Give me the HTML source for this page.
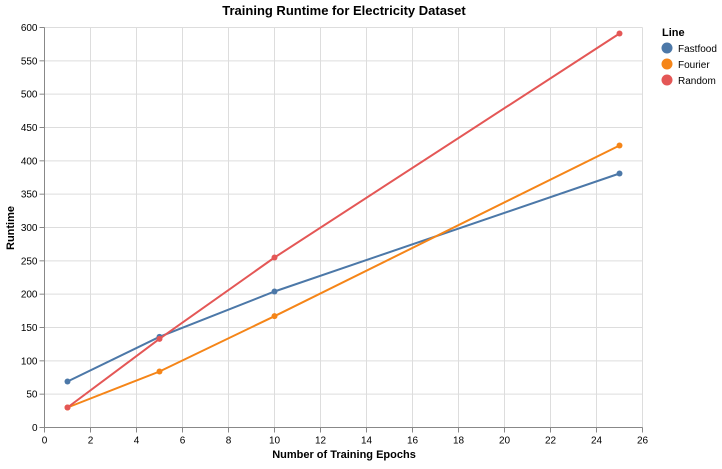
<!DOCTYPE html>
<html><head><meta charset="utf-8"><style>
body{margin:0;background:#fff;font-family:"Liberation Sans",Arial,sans-serif;}
svg text{font-family:"Liberation Sans",Arial,sans-serif;}
</style></head><body>
<svg id="chart" width="722" height="464">
<g id="grid"></g>
<g id="axes"></g>
<g id="series"></g>
<text x="344" y="15" text-anchor="middle" font-size="13" font-weight="bold">Training Runtime for Electricity Dataset</text>
<text x="344" y="458" text-anchor="middle" font-size="11" font-weight="bold">Number of Training Epochs</text>
<text transform="translate(14,228) rotate(-90)" text-anchor="middle" font-size="11" font-weight="bold">Runtime</text>
<g id="legend">
<text x="662" y="36" font-size="11" font-weight="bold">Line</text>
</g>
</svg>
<script>
const epochs=[1,5,10,25];
const fastfood=[69,136,204,381];
const fourier=[30,84,167,423];
const random=[30,133,255,591];
const seriesNames=["Fastfood","Fourier","Random"];
const seriesColors=["#4c78a8","#f58518","#e45756"];
const xTicks=[0,2,4,6,8,10,12,14,16,18,20,22,24,26];
const yTicks=[0,50,100,150,200,250,300,350,400,450,500,550,600];
const NS="http://www.w3.org/2000/svg";
const x=v=>44.5+v*23;
const y=v=>427.5-v*400/600;
function mk(t,a,p){const e=document.createElementNS(NS,t);for(const k in a)e.setAttribute(k,a[k]);p.appendChild(e);return e;}
const grid=document.getElementById('grid'),axes=document.getElementById('axes'),ser=document.getElementById('series'),leg=document.getElementById('legend');
xTicks.forEach(t=>{
 const l=mk('line',{x1:x(t),x2:x(t),y1:y(0),y2:y(600),stroke:'#ddd'},grid);
 
 
 const k=mk('line',{x1:x(t),x2:x(t),y1:y(0),y2:y(0)+5,stroke:'#888'},axes);
 
 
 const tx=mk('text',{x:x(t),y:y(0)+16,'text-anchor':'middle','font-size':10},axes);tx.textContent=t;
 
 
});
yTicks.forEach(t=>{
 const l=mk('line',{x1:x(0),x2:x(26),y1:y(t),y2:y(t),stroke:'#ddd'},grid);
 
 
 const k=mk('line',{x1:x(0)-5,x2:x(0),y1:y(t),y2:y(t),stroke:'#888'},axes);
 
 
 const tx=mk('text',{x:x(0)-7,y:y(t)+3.5,'text-anchor':'end','font-size':10},axes);tx.textContent=t;
 
 
});
const xa=mk('line',{x1:x(0),x2:x(26),y1:y(0),y2:y(0),stroke:'#888'},axes);


const ya=mk('line',{x1:x(0),x2:x(0),y1:y(0),y2:y(600),stroke:'#888'},axes);


[fastfood,fourier,random].forEach((vals,i)=>{
 const p=mk('polyline',{points:epochs.map((e,j)=>x(e)+','+y(vals[j])).join(' '),fill:'none',stroke:seriesColors[i],'stroke-width':2},ser);
 
 
 epochs.forEach((e,j)=>{
  const c=mk('circle',{cx:x(e),cy:y(vals[j]),r:3,fill:seriesColors[i]},ser);
  
  
 });
 const lc=mk('circle',{cx:667,cy:48+i*16,r:5.5,fill:seriesColors[i]},leg);
 
 
 const lt=mk('text',{x:678,y:52+i*16,'font-size':10},leg);lt.textContent=seriesNames[i];
 
 
});
</script>
</body></html>
